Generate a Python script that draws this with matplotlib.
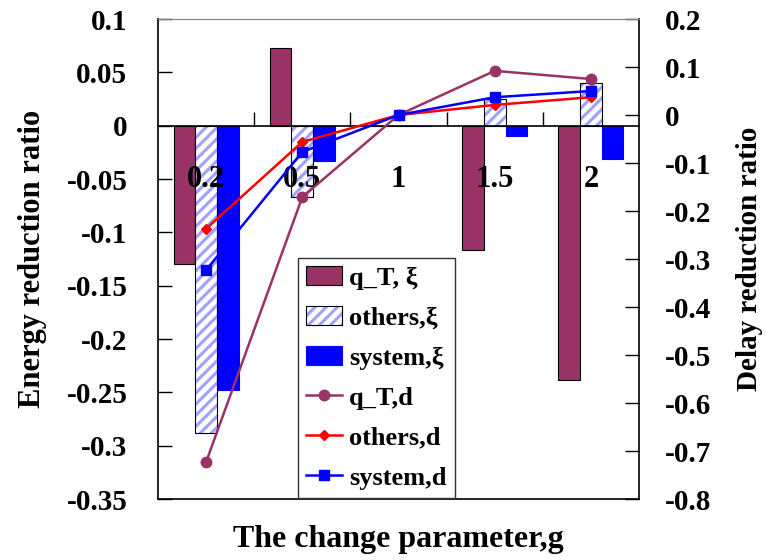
import matplotlib
matplotlib.use("Agg")
import matplotlib.pyplot as plt
import numpy as np
from matplotlib.legend_handler import HandlerTuple

# ---- data ----
categories = ["0.2", "0.5", "1", "1.5", "2"]

# energy reduction ratio (left axis, bars)
qT_xi = [-0.130, 0.073, 0.0, -0.117, -0.238]
others_xi = [-0.288, -0.067, 0.0, 0.025, 0.040]
system_xi = [-0.248, -0.033, 0.0, -0.010, -0.031]

# delay reduction ratio (right axis, lines)
qT_d = [-0.723, -0.171, 0.0, 0.092, 0.075]
others_d = [-0.237, -0.056, 0.0, 0.021, 0.037]
system_d = [-0.323, -0.077, 0.0, 0.037, 0.050]

left_ticks = [0.1, 0.05, 0, -0.05, -0.1, -0.15, -0.2, -0.25, -0.3, -0.35]
left_labels = ["0.1", "0.05", "0", "-0.05", "-0.1", "-0.15", "-0.2", "-0.25", "-0.3", "-0.35"]
right_ticks = [0.2, 0.1, 0, -0.1, -0.2, -0.3, -0.4, -0.5, -0.6, -0.7, -0.8]
right_labels = ["0.2", "0.1", "0", "-0.1", "-0.2", "-0.3", "-0.4", "-0.5", "-0.6", "-0.7", "-0.8"]

# ---- style ----
plt.rcParams["font.family"] = ["Liberation Serif", "DejaVu Serif"]
plt.rcParams["font.weight"] = "bold"
plt.rcParams["hatch.linewidth"] = 2.2

MAROON = "#993366"
BLUE = "#0000FF"
RED = "#FF0000"
HATCH_BLUE = "#A0A0FF"

fig = plt.figure(figsize=(7.66, 5.6), dpi=100)
ax = fig.add_axes([158 / 766, 1 - 499 / 560, 481 / 766, 480 / 560])
ax.set_axisbelow(False)
ax2 = ax.twinx()

x = np.arange(len(categories))
w = 0.225

b1 = ax.bar(x - w, qT_xi, w, color=MAROON, edgecolor="black", linewidth=0.8, zorder=2)
b2f = ax.bar(x, others_xi, w, color="white", edgecolor=HATCH_BLUE, hatch="///",
             linewidth=0, zorder=2)
b2e = ax.bar(x, others_xi, w, fill=False, edgecolor="black", linewidth=0.8, zorder=2.1)
b3 = ax.bar(x + w, system_xi, w, color=BLUE, edgecolor=BLUE, linewidth=0.8, zorder=2)

ax.set_xlim(-0.5, len(categories) - 0.5)
ax.set_ylim(-0.35, 0.1)
ax.set_yticks(left_ticks, left_labels)
ax.tick_params(axis="y", direction="in", length=10, width=1, pad=22, labelsize=21)

# category axis runs along zero
ax.spines["bottom"].set_position(("data", 0))
ax.spines["bottom"].set_linewidth(1.2)
ax.set_xticks(x[:-1] + 0.5)
ax.set_xticklabels([])
ax.tick_params(axis="x", which="major", direction="in", length=10, width=1)
ax.set_xticks(x, minor=True)
ax.set_xticklabels(categories, minor=True)
ax.tick_params(axis="x", which="minor", length=0, pad=28, labelsize=22)
ax.spines["top"].set_visible(False)
ax.spines["right"].set_visible(False)
ax.spines["left"].set_linewidth(1.2)

ax2.plot(x, qT_d, color=MAROON, lw=1.8, marker="o", ms=7.5, zorder=3)
ax2.plot(x, others_d, color=RED, lw=1.8, marker="D", ms=5.5, zorder=3)
ax2.plot(x, system_d, color=BLUE, lw=1.8, marker="s", ms=7.5, zorder=3)
ax2.set_ylim(-0.8, 0.2)
ax2.set_yticks(right_ticks, right_labels)
ax2.tick_params(axis="y", direction="in", length=10, width=1, pad=18.5, labelsize=21)
ax2.spines["top"].set_color("#808080")
ax2.spines["left"].set_visible(False)
ax2.spines["right"].set_linewidth(1.2)
ax2.spines["bottom"].set_linewidth(1.2)

ax.set_ylabel("Energy reduction ratio", fontsize=22, fontweight="bold", labelpad=14)
ax2.set_ylabel("Delay reduction ratio", fontsize=21, fontweight="bold", labelpad=18)
fig.text(0.5 * (158 + 639) / 766, 1 - 540 / 560, "The change parameter,g",
         fontsize=23, fontweight="bold", ha="center", va="center")

lines = ax2.get_lines()
handles = [b1, (b2f, b2e), b3, lines[0], lines[1], lines[2]]
labels = ["q_T, ξ", "others,ξ", "system,ξ", "q_T,d", "others,d", "system,d"]
leg = ax2.legend(handles, labels, handler_map={tuple: HandlerTuple(ndivide=1, pad=0)},
                 loc="lower left", bbox_to_anchor=(0.291, 0.002), fontsize=19,
                 frameon=True, fancybox=False, framealpha=1, edgecolor="#333333",
                 handlelength=1.36, handleheight=0.72, handletextpad=0.25,
                 labelspacing=0.62, borderpad=0.32, borderaxespad=0)
leg.get_frame().set_linewidth(1.0)

fig.savefig("out.png", dpi=100)
